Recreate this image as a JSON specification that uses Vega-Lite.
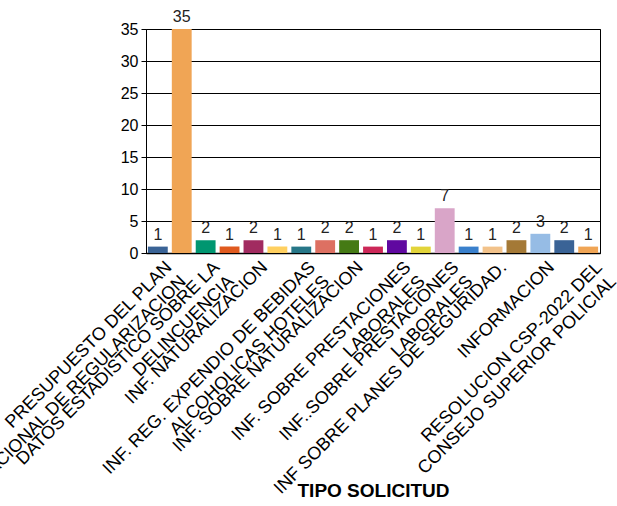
{
  "$schema": "https://vega.github.io/schema/vega-lite/v6.json",
  "autosize": {"type": "none"},
  "padding": {"left": 146, "top": 29, "right": 17, "bottom": 253},
  "width": 454,
  "height": 224,
  "background": "white",
  "config": {
    "view": {"stroke": "black", "strokeWidth": 1},
    "font": "Liberation Sans",
    "axis": {"labelFont": "Liberation Sans", "labelColor": "black", "titleFont": "Liberation Sans", "titleColor": "black", "domainColor": "black", "tickColor": "black"}
  },
  "data": {
    "values": [
      {"tipo": "PRESUPUESTO  DEL PLAN|NACIONAL DE REGULARIZACION", "cantidad": 1},
      {"tipo": "#2", "cantidad": 35},
      {"tipo": "DATOS ESTADISTICO SOBRE LA|DELINCUENCIA", "cantidad": 2},
      {"tipo": "#4", "cantidad": 1},
      {"tipo": "INF. NATURALIZACION", "cantidad": 2},
      {"tipo": "#6", "cantidad": 1},
      {"tipo": "INF. REG. EXPENDIO DE BEBIDAS|ALCOHOLICAS HOTELES", "cantidad": 1},
      {"tipo": "#8", "cantidad": 2},
      {"tipo": "INF. SOBRE NATURALIZACION", "cantidad": 2},
      {"tipo": "#10", "cantidad": 1},
      {"tipo": "INF. SOBRE PRESTACIONES|LABORALES", "cantidad": 2},
      {"tipo": "#12", "cantidad": 1},
      {"tipo": "INF..SOBRE PRESTACIONES|LABORALES", "cantidad": 7},
      {"tipo": "#14", "cantidad": 1},
      {"tipo": "INF SOBRE PLANES DE SEGURIDAD.", "cantidad": 1},
      {"tipo": "#16", "cantidad": 2},
      {"tipo": "INFORMACION", "cantidad": 3},
      {"tipo": "#18", "cantidad": 2},
      {"tipo": "RESOLUCION CSP-2022 DEL|CONSEJO SUPERIOR POLICIAL", "cantidad": 1}
    ]
  },
  "encoding": {
    "x": {
      "field": "tipo",
      "type": "nominal",
      "sort": null,
      "scale": {"paddingInner": 0.17, "paddingOuter": 0.08},
      "axis": {
        "title": "TIPO SOLICITUD",
        "titleFontSize": 19,
        "titleFontWeight": "bold",
        "titleBaseline": "alphabetic",
        "titleY": 243,
        "ticks": false,
        "domainWidth": 1.5,
        "labelAngle": -45,
        "labelFontSize": 18,
        "labelLineHeight": 20,
        "labelLimit": 1000,
        "labelPadding": 5,
        "labelOffset": 5,
        "labelExpr": "indexof(datum.label, '#') == 0 ? '' : split(datum.label, '|')"
      }
    },
    "y": {
      "field": "cantidad",
      "type": "quantitative",
      "scale": {"domain": [0, 35], "nice": false},
      "axis": {
        "title": null,
        "values": [0, 5, 10, 15, 20, 25, 30, 35],
        "labelFontSize": 16,
        "tickSize": 5,
        "labelPadding": 3,
        "gridColor": "black",
        "gridWidth": 1,
        "gridOpacity": 1
      }
    }
  },
  "layer": [
    {
      "mark": {"type": "bar"},
      "encoding": {
        "color": {
          "field": "tipo",
          "type": "nominal",
          "sort": null,
          "legend": null,
          "scale": {"range": ["#3A6396", "#F0A555", "#009670", "#E05A1F", "#A12B60", "#FFD060", "#277788", "#DD7062", "#457A14", "#CC2858", "#6008A0", "#E2D43A", "#D9A5C8", "#3A80CC", "#F2C28A", "#A47936", "#96BCE5", "#3A6396", "#F0A555"]}
        }
      }
    },
    {
      "mark": {"type": "text", "baseline": "alphabetic", "dy": -7, "fontSize": 16, "color": "#222222", "font": "Liberation Sans"},
      "encoding": {"text": {"field": "cantidad", "type": "quantitative"}}
    }
  ]
}
